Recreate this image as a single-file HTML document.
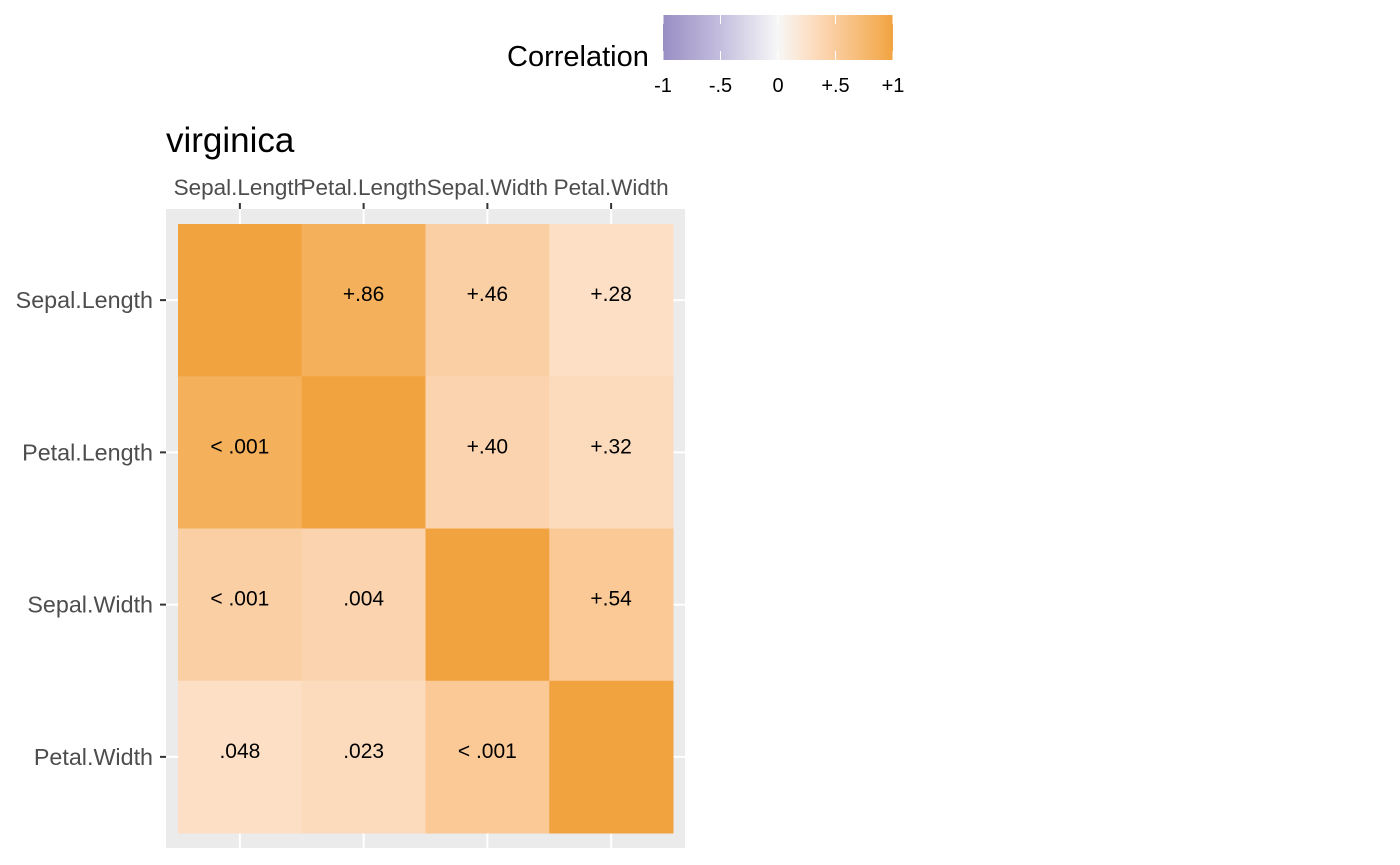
<!DOCTYPE html>
<html><head><meta charset="utf-8"><style>
body{margin:0;background:#fff;}
svg{display:block;font-family:"Liberation Sans",Arial,sans-serif;}
</style></head><body>
<svg id="c" width="1400" height="865">
<defs><linearGradient id="g" x1="0" x2="1" y1="0" y2="0">
<stop offset="0" stop-color="#998EC3"/><stop offset="0.25" stop-color="#C4BEDE"/><stop offset="0.5" stop-color="#F7F7F7"/><stop offset="0.64" stop-color="#FCDFC4"/><stop offset="0.73" stop-color="#FBCFA4"/><stop offset="0.93" stop-color="#F4B05B"/><stop offset="1" stop-color="#F1A340"/></linearGradient></defs>
<g>
<text x="507" y="66" font-size="29" fill="#000">Correlation</text>
<rect x="663" y="15" width="230" height="45" fill="url(#g)"/>
<g id="lt"></g>
</g>
<text x="166" y="152" font-size="35" fill="#000">virginica</text>
<rect x="166" y="209" width="519" height="639" fill="#EBEBEB"/>
<g id="grid"></g><g id="tiles"></g><g id="axes"></g>
</svg>
<script>
const vars=["Sepal.Length","Petal.Length","Sepal.Width","Petal.Width"];
const rVals=[[1,0.86,0.46,0.28],[0.86,1,0.40,0.32],[0.46,0.40,1,0.54],[0.28,0.32,0.54,1]];
const cellLabels=[["","+.86","+.46","+.28"],["< .001","","+.40","+.32"],["< .001",".004","","+.54"],[".048",".023","< .001",""]];
const legendTicks=[-1,-0.5,0,0.5,1];
const legendTickLabels=["-1","-.5","0","+.5","+1"];
const NS="http://www.w3.org/2000/svg";
function mk(t,a,p){const e=document.createElementNS(NS,t);for(const k in a)e.setAttribute(k,a[k]);p.appendChild(e);return e;}
const x0=178,cw=123.75,y0=224,ch=152.25;
const xs=i=>x0+cw*i, ys=i=>y0+ch*i;
const lx=v=>663+(v+1)/2*230;
function hex(c){return[parseInt(c.slice(1,3),16),parseInt(c.slice(3,5),16),parseInt(c.slice(5,7),16)];}
const scaleStops=[[-1,"#998EC3"],[-0.5,"#C4BEDE"],[0,"#F7F7F7"],[0.28,"#FCDFC4"],[0.46,"#FBCFA4"],[0.86,"#F4B05B"],[1,"#F1A340"]];
function col(r){
 for(let i=0;i<scaleStops.length-1;i++){
  const [a,ca]=scaleStops[i],[b,cb]=scaleStops[i+1];
  if(r>=a&&r<=b){const t=(r-a)/(b-a),A=hex(ca),B=hex(cb);
   return "rgb("+[0,1,2].map(k=>Math.round(A[k]+(B[k]-A[k])*t)).join(",")+")";}
 }
 return "#F1A340";
}
const grid=document.getElementById("grid"),tiles=document.getElementById("tiles"),axes=document.getElementById("axes"),lt=document.getElementById("lt");
legendTicks.forEach((v,i)=>{
 const x=lx(v);
 let l=mk("line",{x1:x,x2:x,y1:15,y2:24,stroke:"#fff","stroke-width":1},lt);
 
 l=mk("line",{x1:x,x2:x,y1:51,y2:60,stroke:"#fff","stroke-width":1},lt);
 
 const t=mk("text",{x:x,y:92,"font-size":20,"text-anchor":"middle",fill:"#000"},lt);t.textContent=legendTickLabels[i];
 
});
vars.forEach((v,i)=>{
 const cx=xs(i)+cw/2,cy=ys(i)+ch/2;
 let g=mk("line",{x1:cx,x2:cx,y1:209,y2:848,stroke:"#fff","stroke-width":2},grid);
 
 g=mk("line",{x1:166,x2:685,y1:cy,y2:cy,stroke:"#fff","stroke-width":2},grid);
 
 let t=mk("line",{x1:cx,x2:cx,y1:203,y2:209,stroke:"#333","stroke-width":2},axes);
 
 t=mk("line",{x1:160,x2:166,y1:cy,y2:cy,stroke:"#333","stroke-width":2},axes);
 
 let l=mk("text",{x:cx,y:195,"font-size":22.5,"text-anchor":"middle",fill:"#4D4D4D"},axes);l.textContent=v;
 
 l=mk("text",{x:153,y:cy+8,"font-size":23.3,"text-anchor":"end",fill:"#4D4D4D"},axes);l.textContent=v;
 
});
for(let r=0;r<4;r++)for(let c=0;c<4;c++){
 const rc=mk("rect",{x:xs(c),y:ys(r),width:cw+0.5,height:ch+0.5,fill:col(rVals[r][c])},tiles);
 
 if(cellLabels[r][c]){
  const t=mk("text",{x:xs(c)+cw/2,y:ys(r)+ch/2+1,"font-size":21,"text-anchor":"middle",fill:"#000"},tiles);
  t.textContent=cellLabels[r][c];
  
 }
}
</script>
</body></html>
